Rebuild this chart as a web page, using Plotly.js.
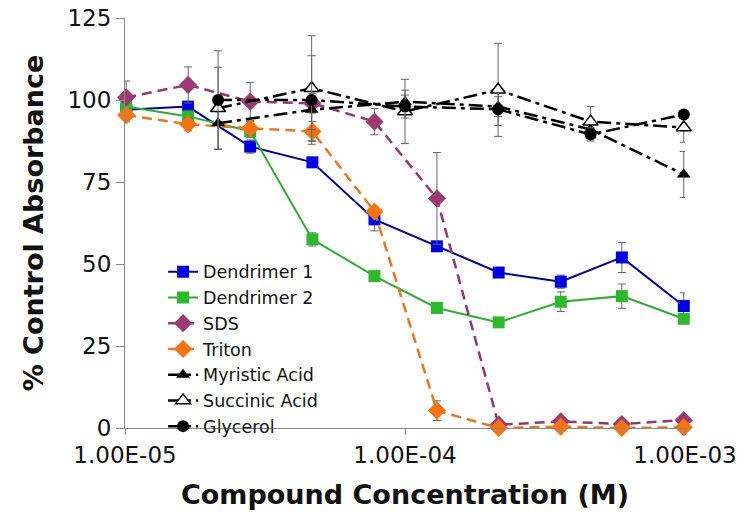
<!DOCTYPE html>
<html>
<head>
<meta charset="utf-8">
<script src="https://cdn.plot.ly/plotly-3.0.1.min.js"></script>
<style>html,body{margin:0;padding:0;background:#fff;}#chart{width:750px;height:531px;}</style>
</head>
<body>
<div id="chart"></div>
<script>
// Concentrations (M)
const concA = [1.01e-5, 1.68e-5, 2.8e-5, 4.67e-5, 7.78e-5, 1.30e-4, 2.16e-4, 3.6e-4, 5.95e-4, 9.9e-4];
const concB = [2.15e-5, 4.64e-5, 1.0e-4, 2.15e-4, 4.6e-4, 9.9e-4];

// % Control Absorbance
const dend1 = [97, 98, 85.8, 81, 63.6, 55.4, 47.4, 44.6, 52, 37.2];
const dend1Err = [1, 1, 2, 1, 3.5, 1, 1, 2, 4.6, 4];
const dend2 = [98, 95, 90.5, 57.5, 46.3, 36.6, 32.2, 38.5, 40.2, 33.3];
const dend2Err = [1, 1.5, 2, 2, 1, 1, 1, 3, 3.7, 1];
const sds = [100.8, 104.6, 99.5, 99, 93.4, 70, 1.0, 2.0, 1.2, 2.4];
const sdsErr = [5, 5.5, 5.8, 3, 4, 14, 0.5, 0.5, 0.5, 0.5];
const triton = [95.4, 92.6, 91.4, 90.4, 66, 5.3, 0, 0.4, 0, 0.2];
const tritonErr = [2, 2, 2, 3, 1, 3, 0.5, 0.5, 0.5, 0.5];
const myristic = [92.9, 97, 99.5, 98, 91, 77.3];
const myristicErr = [8, 6, 3.5, 3, 2, 7];
const succinic = [97.5, 103.6, 96.5, 103.1, 93.4, 91.6];
const succinicErr = [12.5, 16, 9.8, 14.2, 4.6, 4.5];
const glycerol = [100, 100, 98, 97.2, 89.5, 95.6];
const glycerolErr = [15, 13.5, 3.5, 5, 2, 1];

const xTickVals = [1e-5, 1e-4, 1e-3];
const xTickText = ['1.00E-05', '1.00E-04', '1.00E-03'];
const yTickVals = [0, 25, 50, 75, 100, 125];

const FONT = 'DejaVu Sans, Verdana, sans-serif';
const errStyle = (arr) => ({type: 'data', array: arr, visible: true, color: '#666', thickness: 1, width: 4});
const blackDash = '14px,5px,4px,5px';

const traces = [
  {name: 'Dendrimer 1', x: concA, y: dend1, error_y: errStyle(dend1Err), mode: 'lines+markers',
   line: {color: '#00008F', width: 2}, marker: {symbol: 'square', size: 12, color: '#0000DD'}},
  {name: 'Dendrimer 2', x: concA, y: dend2, error_y: errStyle(dend2Err), mode: 'lines+markers',
   line: {color: '#33AA33', width: 2}, marker: {symbol: 'square', size: 12, color: '#2DB82D'}},
  {name: 'SDS', x: concA, y: sds, error_y: errStyle(sdsErr), mode: 'lines+markers',
   line: {color: '#8E3A6E', width: 2.5, dash: '10px,6px'}, marker: {symbol: 'diamond', size: 14, color: '#9B3A72'}},
  {name: 'Triton', x: concA, y: triton, error_y: errStyle(tritonErr), mode: 'lines+markers',
   line: {color: '#E87722', width: 2.5, dash: '10px,6px'}, marker: {symbol: 'diamond', size: 14, color: '#F57215'}},
  {name: 'Myristic Acid', x: concB, y: myristic, error_y: errStyle(myristicErr), mode: 'lines+markers',
   line: {color: '#000', width: 2.5, dash: blackDash}, marker: {symbol: 'triangle-up', size: 12, color: '#000'}},
  {name: 'Succinic Acid', x: concB, y: succinic, error_y: errStyle(succinicErr), mode: 'lines+markers',
   line: {color: '#000', width: 2.5, dash: blackDash}, marker: {symbol: 'triangle-up', size: 13, color: '#fff', line: {color: '#000', width: 1.5}}},
  {name: 'Glycerol', x: concB, y: glycerol, error_y: errStyle(glycerolErr), mode: 'lines+markers',
   line: {color: '#000', width: 2.5, dash: blackDash}, marker: {symbol: 'circle', size: 12, color: '#000'}}
];
traces.forEach(t => { t.type = 'scatter'; t.cliponaxis = false; });

const layout = {
  width: 750, height: 531,
  margin: {l: 125, r: 65, t: 18, b: 103},
  paper_bgcolor: '#fff', plot_bgcolor: '#fff',
  font: {family: FONT, color: '#111'},
  showlegend: true,
  legend: {x: 0.068, y: 0.425, xanchor: 'left', yanchor: 'top', bgcolor: 'rgba(0,0,0,0)',
           font: {family: FONT, size: 17.5, color: '#111'}, tracegroupgap: 0},
  xaxis: {
    type: 'log', range: [-5, -3], tickvals: xTickVals, ticktext: xTickText,
    showgrid: false, zeroline: false, showline: true, linecolor: '#888', linewidth: 1,
    ticks: 'outside', ticklen: 6, tickcolor: '#888',
    tickfont: {family: FONT, size: 23, color: '#111'},
    title: {text: 'Compound Concentration (M)', font: {family: FONT, size: 27, weight: 'bold', color: '#111'}, standoff: 18}
  },
  yaxis: {
    range: [0, 125], tickvals: yTickVals, showgrid: false, zeroline: false,
    showline: true, linecolor: '#888', linewidth: 1,
    ticks: 'outside', ticklen: 8, tickcolor: '#888',
    tickfont: {family: FONT, size: 23, color: '#111'},
    title: {text: '% Control Absorbance', font: {family: FONT, size: 27, weight: 'bold', color: '#111'}, standoff: 16}
  }
};

Plotly.newPlot('chart', traces, layout, {displayModeBar: false, staticPlot: true});
</script>
</body>
</html>
